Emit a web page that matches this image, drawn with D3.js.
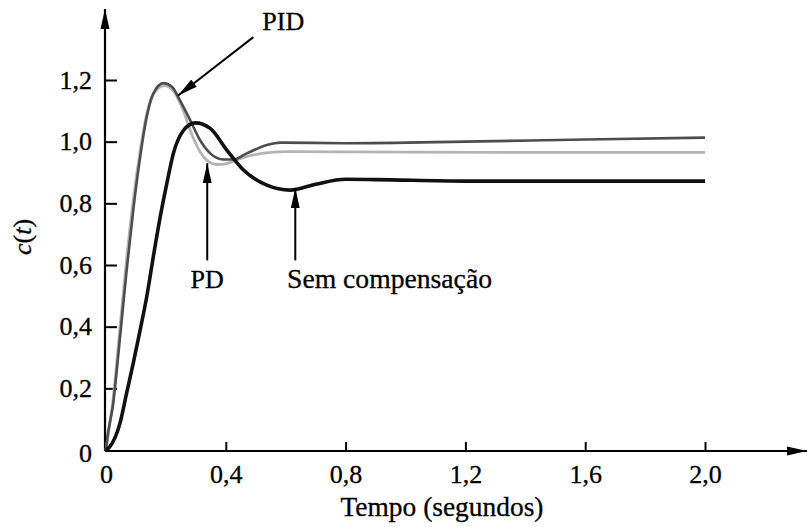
<html>
    <head>
        <style>
        body {
            margin: 0;
            background: white;
        }

        svg text {
            font-family: 'Liberation Serif', 'Times New Roman', serif;
            fill: black;
            stroke: black;
            stroke-width: 0.3;
        }

        .tick text {
            font-size: 26px;
        }
        </style>
    </head>
    <body>
        <svg width="808" height="527"></svg>

        <script src="https://d3js.org/d3.v7.min.js"></script>

        <script>
            // values (t in seconds, c(t))
            let semT = [0, 0.013, 0.047, 0.069, 0.091, 0.114, 0.136, 0.158, 0.181, 0.203, 0.225, 0.259, 0.298, 0.348, 0.404, 0.459, 0.537, 0.615, 0.7, 0.8, 0.9, 1.2, 1.6, 2.0]
            let semC = [0, 0.011, 0.088, 0.185, 0.282, 0.389, 0.497, 0.627, 0.756, 0.864, 0.962, 1.037, 1.061, 1.043, 0.972, 0.908, 0.859, 0.843, 0.862, 0.878, 0.877, 0.872, 0.872, 0.872]

            let pidT = [0, 0.002, 0.024, 0.047, 0.069, 0.091, 0.114, 0.136, 0.158, 0.192, 0.22, 0.247, 0.281, 0.314, 0.348, 0.392, 0.426, 0.47, 0.537, 0.582, 0.8, 1.2, 1.6, 2.0]
            let pidC = [0, 0.02, 0.15, 0.367, 0.583, 0.778, 0.95, 1.08, 1.156, 1.19, 1.178, 1.134, 1.07, 1.005, 0.962, 0.942, 0.942, 0.962, 0.989, 0.997, 0.995, 1.0, 1.007, 1.013]

            let pdT = [0, 0.024, 0.047, 0.069, 0.091, 0.114, 0.136, 0.158, 0.195, 0.225, 0.25, 0.29, 0.314, 0.336, 0.37, 0.403, 0.448, 0.52, 0.6, 1.0, 2.0]
            let pdC = [0, 0.17, 0.40, 0.62, 0.81, 0.97, 1.09, 1.155, 1.182, 1.165, 1.12, 1.015, 0.967, 0.94, 0.926, 0.929, 0.945, 0.962, 0.968, 0.966, 0.965]

            let xTicks = [0, 0.4, 0.8, 1.2, 1.6, 2.0]
            let yTicks = [0, 0.2, 0.4, 0.6, 0.8, 1.0, 1.2]

            // annotation arrows, in data units: [label, tail t, tail c, tip t, tip c]
            let arrows = [
                ["PID", 0.492, 1.339, 0.241, 1.15],
                ["PD", 0.338, 0.615, 0.338, 0.93],
                ["Sem compensação", 0.632, 0.615, 0.632, 0.849]
            ]

            let svg = d3.select("svg")

            let x = d3.scaleLinear().domain([0, 2]).range([106, 705])
            let y = d3.scaleLinear().domain([0, 1.2]).range([450, 80])

            let locale = d3.formatLocale({decimal: ",", thousands: ".", grouping: [3], currency: ["", ""]})
            let fmt = d => d === 0 ? "0" : locale.format(".1f")(d)

            // arrowhead marker
            let defs = svg.append("defs")
            defs.append("marker")
                .attr("id", "head")
                .attr("markerUnits", "userSpaceOnUse")
                .attr("viewBox", "0 -5 20 10")
                .attr("refX", 20)
                .attr("refY", 0)
                .attr("markerWidth", 20)
                .attr("markerHeight", 10)
                .attr("orient", "auto")
                .append("path")
                .attr("d", "M0,-4.5L20,0L0,4.5Z")
                .style("fill", "black")

            // axes lines with arrows
            svg.append("line")
                .attr("x1", 105).attr("y1", 451)
                .attr("x2", 807).attr("y2", 451)
                .style("stroke", "black")
                .style("stroke-width", 2.2)
                .attr("marker-end", "url(#head)")

            svg.append("line")
                .attr("x1", 105).attr("y1", 451)
                .attr("x2", 105).attr("y2", 9)
                .style("stroke", "black")
                .style("stroke-width", 2.2)
                .attr("marker-end", "url(#head)")

            let xAxis = svg.append("g")
                .attr("transform", "translate(0,451)")
                .call(d3.axisBottom(x)
                    .tickValues(xTicks)
                    .tickFormat(fmt)
                    .tickSize(-9)
                    .tickSizeOuter(0)
                    .tickPadding(14))
            xAxis.select(".domain").remove()
            xAxis.selectAll(".tick line")
                .style("stroke-width", 2)
                .filter(d => d === 0).remove()

            let yAxis = svg.append("g")
                .attr("transform", "translate(105,0)")
                .call(d3.axisLeft(y)
                    .tickValues(yTicks)
                    .tickFormat(fmt)
                    .tickSize(-12)
                    .tickSizeOuter(0)
                    .tickPadding(13))
            yAxis.select(".domain").remove()
            yAxis.selectAll(".tick line")
                .style("stroke-width", 2)
                .filter(d => d === 0).remove()
            yAxis.selectAll(".tick text")
                .attr("dy", d => d === 0 ? "0.45em" : "0.32em")

            // curves
            let line = d3.line()
                .x(d => x(d[0]))
                .y(d => y(d[1]))
                .curve(d3.curveMonotoneX)

            let series = [
                {t: pdT, c: pdC, color: "#b4b4b4", w: 2.8},
                {t: pidT, c: pidC, color: "#4d4d4d", w: 2.6},
                {t: semT, c: semC, color: "#111", w: 3.6}
            ]

            svg.append("g")
                .selectAll("path")
                .data(series)
                .enter().append("path")
                .attr("d", s => line(d3.zip(s.t, s.c)))
                .style("fill", "none")
                .style("stroke", s => s.color)
                .style("stroke-width", s => s.w)
                .style("stroke-linejoin", "round")

            // annotation arrows
            svg.append("g")
                .selectAll("line")
                .data(arrows)
                .enter().append("line")
                .attr("x1", d => x(d[1]))
                .attr("y1", d => y(d[2]))
                .attr("x2", d => x(d[3]))
                .attr("y2", d => y(d[4]))
                .style("stroke", "black")
                .style("stroke-width", 2)
                .attr("marker-end", "url(#head)")

            // labels
            svg.append("text")
                .attr("x", x(0.522))
                .attr("y", 30)
                .style("font-size", "26px")
                .text(arrows[0][0])

            svg.append("text")
                .attr("x", x(0.338))
                .attr("y", 288)
                .attr("text-anchor", "middle")
                .style("font-size", "26px")
                .text(arrows[1][0])

            svg.append("text")
                .attr("x", 287)
                .attr("y", 288)
                .style("font-size", "27px")
                .attr("textLength", 205)
                .attr("lengthAdjust", "spacingAndGlyphs")
                .text(arrows[2][0])

            svg.append("text")
                .attr("x", 442)
                .attr("y", 516)
                .attr("text-anchor", "middle")
                .style("font-size", "27px")
                .attr("textLength", 203)
                .attr("lengthAdjust", "spacingAndGlyphs")
                .text("Tempo (segundos)")

            let ylab = svg.append("text")
                .attr("transform", "translate(31,237) rotate(-90)")
                .attr("text-anchor", "middle")
                .style("font-size", "26px")
            ylab.append("tspan").style("font-style", "italic").text("c")
            ylab.append("tspan").text("(")
            ylab.append("tspan").style("font-style", "italic").text("t")
            ylab.append("tspan").text(")")
        </script>
    </body>
</html>
